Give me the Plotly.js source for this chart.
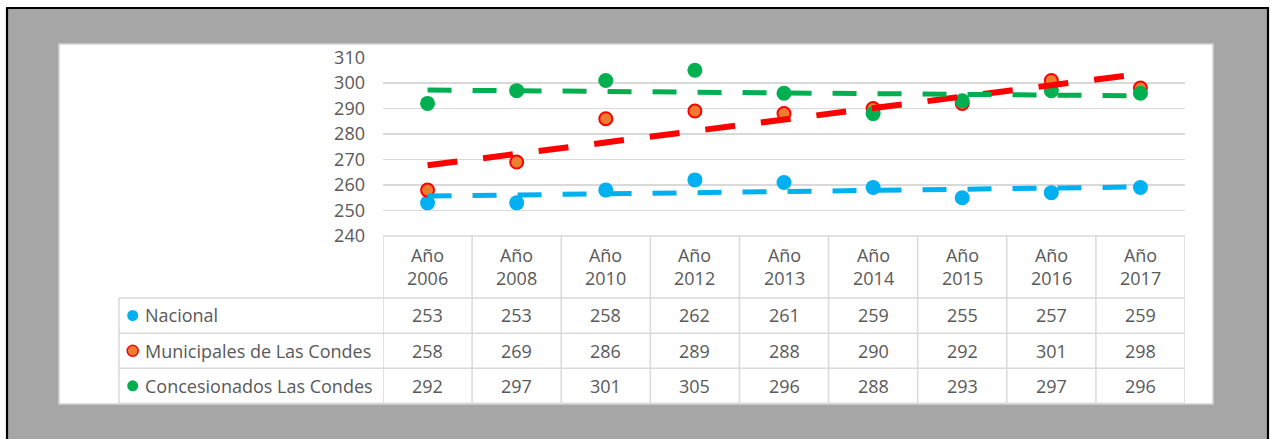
<!DOCTYPE html>
<html><head><meta charset="utf-8">
<script src="https://cdn.plot.ly/plotly-3.0.1.min.js"></script>
<style>html,body{margin:0;padding:0;background:#fff;}#chart{width:1270px;height:439px;}</style>
</head><body><div id="chart"></div>
<script>
// ---- data ----
const years = ['2006','2008','2010','2012','2013','2014','2015','2016','2017'];
const yearPrefix = 'Año';
const seriesNames = ['Nacional','Municipales de Las Condes','Concesionados Las Condes'];
const nacional = [253,253,258,262,261,259,255,257,259];
const municipales = [258,269,286,289,288,290,292,301,298];
const concesionados = [292,297,301,305,296,288,293,297,296];
const yTicks = [240,250,260,270,280,290,300,310];

// ---- layout helpers ----
const W = 1270, H = 439;
const px = x => x / W;
const py = y => 1 - y / H;
const FONT = 'Open Sans';
const TXT = '#595959';
const GRID = '#d9d9d9';
const xIdx = years.map((_, i) => i + 1);
const seriesVals = [nacional, municipales, concesionados];
const colors = ['#00b0f0', '#ed7d31', '#00b050'];
const lineColors = ['#00b0f0', '#ff0000', '#00b050'];

function trend(vals) {
  const n = vals.length;
  const xs = vals.map((_, i) => i + 1);
  const mx = xs.reduce((a, b) => a + b, 0) / n;
  const my = vals.reduce((a, b) => a + b, 0) / n;
  let sxy = 0, sxx = 0;
  for (let i = 0; i < n; i++) { sxy += (xs[i] - mx) * (vals[i] - my); sxx += (xs[i] - mx) ** 2; }
  const b = sxy / sxx, a = my - b * mx;
  return { x: [1, n], y: [a + b * 1, a + b * n] };
}

const traces = [];
// markers
seriesVals.forEach((vals, k) => {
  traces.push({
    type: 'scatter', mode: 'markers', x: xIdx, y: vals, name: seriesNames[k],
    cliponaxis: false, showlegend: false, hoverinfo: 'skip',
    marker: k === 1
      ? { size: 13, color: colors[k], line: { color: '#ff0000', width: 2 } }
      : { size: 15, color: colors[k], line: { width: 0 } }
  });
});
// linear trendlines
const dashes = ['24px,21px', '30px,26px', '24px,21px'];
const widths = [5, 6, 5];
seriesVals.forEach((vals, k) => {
  const t = trend(vals);
  traces.push({
    type: 'scatter', mode: 'lines', x: t.x, y: t.y, showlegend: false, hoverinfo: 'skip',
    cliponaxis: false,
    line: { color: lineColors[k], width: widths[k], dash: dashes[k] }
  });
});

// ---- shapes ----
const shapes = [];
function lineP(x0, y0, x1, y1, color, width, layer) {
  shapes.push({ type: 'line', xref: 'paper', yref: 'paper', x0: px(x0), y0: py(y0), x1: px(x1), y1: py(y1),
    line: { color: color, width: width }, layer: layer || 'below' });
}
shapes.push({ type: 'rect', xref: 'paper', yref: 'paper', x0: px(7), x1: px(1268), y0: py(439), y1: py(8),
  fillcolor: '#a6a6a6', line: { width: 0 }, layer: 'below' });
lineP(6, 8, 1269, 8, '#000', 2.2);
lineP(7, 8, 7, 439, '#000', 2.2);
lineP(1268, 8, 1268, 439, '#000', 2.2);
shapes.push({ type: 'rect', xref: 'paper', yref: 'paper', x0: px(59), x1: px(1213), y0: py(404), y1: py(44),
  fillcolor: '#ffffff', line: { color: '#d4d4d4', width: 1.5 }, layer: 'below' });

// table grid
const tTop = 236, rowTops = [298, 333.3, 368.3], tBottom = 403.3, labelLeft = 119;
lineP(383, tTop, 1185, tTop, GRID, 1.5);
rowTops.forEach(y => lineP(labelLeft, y, 1185, y, GRID, 1.5));
lineP(labelLeft, tBottom, 1185, tBottom, GRID, 1.5);
lineP(labelLeft, rowTops[0], labelLeft, tBottom, GRID, 1.5);
for (let i = 0; i <= years.length; i++) {
  shapes.push({ type: 'line', xref: 'x', yref: 'paper', x0: i + 0.5, x1: i + 0.5, y0: py(tTop), y1: py(tBottom),
    line: { color: GRID, width: 1.5 }, layer: 'below' });
}
// legend keys in table
rowTops.forEach((y, k) => {
  const cy = y + 17.5, cx = 132.7, r = 5.5;
  shapes.push({ type: 'circle', xref: 'paper', yref: 'paper', x0: px(cx - r), x1: px(cx + r), y0: py(cy + r), y1: py(cy - r),
    fillcolor: colors[k], line: { color: k === 1 ? '#ff0000' : colors[k], width: k === 1 ? 1.5 : 0 }, layer: 'above' });
});

// ---- annotations (table text) ----
const font = { family: FONT, size: 18, color: TXT };
const annotations = [];
years.forEach((yr, i) => {
  annotations.push({ xref: 'x', yref: 'paper', x: i + 1, y: py(266.7), text: yearPrefix + '<br>' + yr,
    showarrow: false, font: font, xanchor: 'center', yanchor: 'middle' });
});
seriesVals.forEach((vals, k) => {
  const cy = rowTops[k] + 17.3;
  annotations.push({ xref: 'paper', yref: 'paper', x: px(143), y: py(cy), text: seriesNames[k],
    showarrow: false, font: font, xanchor: 'left', yanchor: 'middle' });
  vals.forEach((v, i) => {
    annotations.push({ xref: 'x', yref: 'paper', x: i + 1, y: py(cy), text: String(Math.round(v)),
      showarrow: false, font: font, xanchor: 'center', yanchor: 'middle' });
  });
});

const layout = {
  width: W, height: H, margin: { l: 0, r: 0, t: 0, b: 0, pad: 0 },
  paper_bgcolor: '#ffffff', plot_bgcolor: 'rgba(0,0,0,0)',
  showlegend: false,
  xaxis: { domain: [px(383), px(1185)], range: [0.5, years.length + 0.5], showgrid: false, zeroline: false,
    showticklabels: false, ticks: '', showline: false, fixedrange: true },
  yaxis: { domain: [py(236), py(57.5)], range: [240, 310], tickvals: yTicks, ticktext: yTicks.map(String),
    showgrid: true, gridcolor: GRID, gridwidth: 1.5, zeroline: false, showline: false, ticks: '',
    ticklabelstandoff: 17, tickfont: font, fixedrange: true },
  shapes: shapes, annotations: annotations
};
Plotly.newPlot('chart', traces, layout, { displayModeBar: false, staticPlot: true });
</script>
</body></html>
